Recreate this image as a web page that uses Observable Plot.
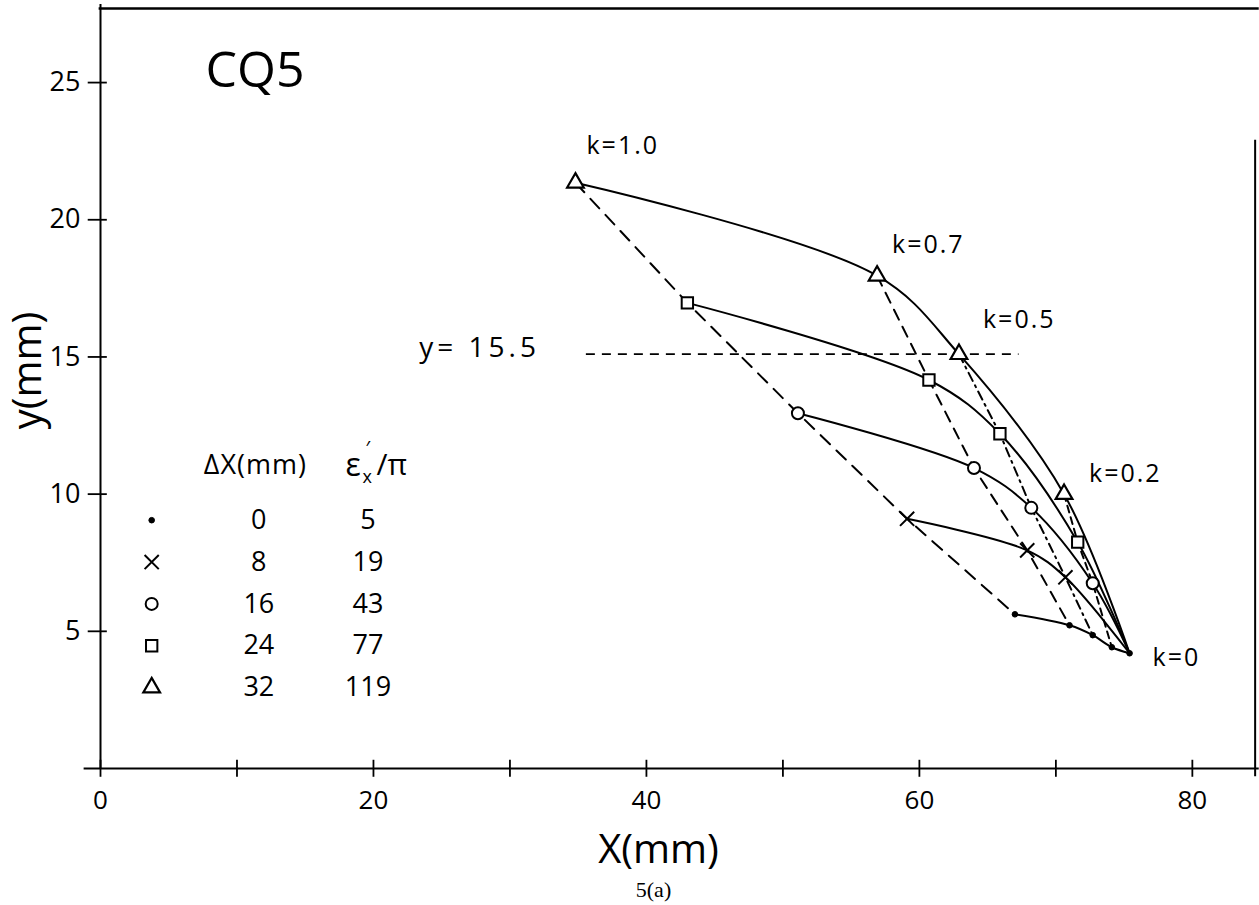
<!DOCTYPE html>
<html><head><meta charset="utf-8">
<script src="https://cdn.jsdelivr.net/npm/d3@7"></script>
<script src="https://cdn.jsdelivr.net/npm/@observablehq/plot@0.6"></script>
<style>body{margin:0;background:#fff;} #chart svg{display:block;}</style>
</head><body><div id="chart"></div>
<script>
// ---- data ----
const kValues = [1.0, 0.7, 0.5, 0.2, 0];
const kLabels = ["k=1.0", "k=0.7", "k=0.5", "k=0.2", "k=0"];
const deltaX = [0, 8, 16, 24, 32];          // ΔX (mm)
const emittance = [5, 19, 43, 77, 119];     // ε'x/π
const seriesNames = ["dot", "times", "circle", "square", "triangle"];
// points of each ΔX series, in kValues order (null = not visible)
const dotX = [67.0, 71.0, 72.7, 74.1, 75.4];
const dotY = [5.62, 5.22, 4.86, 4.42, 4.2];
const crossX = [59.1, 67.9, 70.7, null, 75.4];
const crossY = [9.1, 7.95, 6.97, null, 4.2];
const circleX = [51.1, 64.0, 68.2, 72.7, 75.4];
const circleY = [12.95, 10.95, 9.5, 6.75, 4.2];
const squareX = [43.0, 60.7, 65.9, 71.6, 75.4];
const squareY = [16.97, 14.16, 12.2, 8.25, 4.2];
const triX = [34.8, 56.9, 62.9, 70.6, 75.4];
const triY = [21.35, 17.96, 15.1, 10.0, 4.2];
const refLineY = 15.1;                      // drawn line labelled y = 15.5
const refLineX = [35.6, 67.3];
const refLabel = "y= 15.5";
const xTickMarks = [0, 10, 20, 30, 40, 50, 60, 70, 80];
const xTickLabels = [0, 20, 40, 60, 80];
const yTickMarks = [5, 10, 15, 20, 25];
const xDomain = [0, 84.7];
const yDomain = [0, 27.7];

// ---- build table ----
const seriesX = [dotX, crossX, circleX, squareX, triX];
const seriesY = [dotY, crossY, circleY, squareY, triY];
const rows = [];
seriesNames.forEach((s, i) => kValues.forEach((k, j) => {
  if (seriesX[i][j] != null) rows.push({s, i, k, j, x: seriesX[i][j], y: seriesY[i][j]});
}));
const markerRows = rows.filter(r => r.k !== 0 || r.s === "dot");

const FONT = "Open Sans, Lato, sans-serif";
const dashStyles = ["13,9", "11,8", "9,5,2,5", "7,5"];

const marks = [];
// frame & axes
marks.push(Plot.ruleY([0], {x1: -1.2, x2: 84.9, stroke: "black", strokeWidth: 2.2}));
marks.push(Plot.ruleX([0], {y1: 0, y2: 27.85, stroke: "black", strokeWidth: 2}));
marks.push(Plot.ruleY([27.7], {x1: -0.1, x2: 84.9, stroke: "black", strokeWidth: 2.4}));
marks.push(Plot.ruleX([84.6], {y1: -0.3, y2: 22.9, stroke: "black", strokeWidth: 2}));
marks.push(Plot.ruleX(xTickMarks, {y1: -0.32, y2: 0.3, stroke: "black", strokeWidth: 1.8}));
marks.push(Plot.ruleY(yTickMarks, {x1: -0.9, x2: 0.5, stroke: "black", strokeWidth: 1.8}));
marks.push(Plot.axisX(xTickLabels, {tickSize: 0, tickPadding: 22, fontSize: 26, fontFamily: FONT, label: null}));
marks.push(Plot.axisY(yTickMarks, {tickSize: 0, tickPadding: 20, fontSize: 27, fontFamily: FONT, label: null}));

// reference line
marks.push(Plot.ruleY([refLineY], {x1: refLineX[0], x2: refLineX[1], stroke: "black", strokeWidth: 1.8, strokeDasharray: "9,7"}));
marks.push(Plot.text([refLabel], {x: 32.2, y: refLineY, text: d => d, textAnchor: "end", lineAnchor: "middle", dy: -6, fontSize: 28, fontFamily: FONT}));

// solid curves for each ΔX series
marks.push(Plot.line(rows, {x: "x", y: "y", z: "s", curve: "catmull-rom", stroke: "black", strokeWidth: 2}));
// dashed lines for each k
kValues.slice(0, 4).forEach((k, j) => {
  const pts = rows.filter(r => r.k === k).sort((a, b) => b.i - a.i);
  marks.push(Plot.line(pts, {x: "x", y: "y", stroke: "black", strokeWidth: 2, strokeDasharray: dashStyles[j]}));
});

// markers
const symStyle = {
  dot: {symbol: "circle", r: 2.8, fill: "black", stroke: "black", strokeWidth: 1},
  times: {symbol: "times", r: 6.5, fill: "none", stroke: "black", strokeWidth: 2},
  circle: {symbol: "circle", r: 6, fill: "white", stroke: "black", strokeWidth: 2},
  square: {symbol: "square", r: 6.4, fill: "white", stroke: "black", strokeWidth: 2},
  triangle: {symbol: "triangle", r: 6.2, fill: "white", stroke: "black", strokeWidth: 2.2}
};
seriesNames.forEach(s => {
  marks.push(Plot.dot(markerRows.filter(r => r.s === s), {x: "x", y: "y", ...symStyle[s]}));
});

// k labels, anchored on the triangle (or convergence) points
const kOffsets = [[11, -37], [15, -31], [24, -34], [25, -20], [23, 5]];
kLabels.forEach((lab, j) => {
  const p = rows.find(r => r.s === "triangle" && r.j === j);
  marks.push(Plot.text([p], {x: "x", y: "y", text: () => lab, dx: kOffsets[j][0], dy: kOffsets[j][1],
    textAnchor: "start", lineAnchor: "middle", fontSize: 25, fontFamily: FONT}));
});

// legend table
const legRows = seriesNames.map((s, i) => ({s, i, y: 9.05 - i * 1.525}));
const legSymX = 3.75, legDxX = 11.6, legEmX = 19.6, legHeadY = 11.05;
seriesNames.forEach((s, i) => {
  marks.push(Plot.dot([legRows[i]], {x: () => legSymX, y: "y", ...symStyle[s]}));
});
marks.push(Plot.text(legRows, {x: () => legDxX, y: "y", text: d => String(deltaX[d.i]), fontSize: 27, fontFamily: FONT, lineAnchor: "middle"}));
marks.push(Plot.text(legRows, {x: () => legEmX, y: "y", text: d => String(emittance[d.i]), fontSize: 27, fontFamily: FONT, lineAnchor: "middle"}));
marks.push(Plot.text(["ΔX(mm)"], {x: () => 11.35, y: () => legHeadY, text: d => d, fontSize: 27, fontFamily: FONT, lineAnchor: "middle"}));
marks.push(Plot.text(["ε"], {x: () => 17.95, y: () => legHeadY, text: d => d, textAnchor: "start", fontSize: 32, fontFamily: FONT, lineAnchor: "middle"}));
marks.push(Plot.text(["x"], {x: () => 17.95, y: () => legHeadY, text: d => d, textAnchor: "start", dx: 17, dy: 12, fontSize: 18, fontFamily: FONT, lineAnchor: "middle"}));
marks.push(Plot.text(["′"], {x: () => 17.95, y: () => legHeadY, text: d => d, textAnchor: "start", dx: 20, dy: -17, fontSize: 20, fontFamily: FONT, lineAnchor: "middle"}));
marks.push(Plot.text(["/π"], {x: () => 17.95, y: () => legHeadY, text: d => d, textAnchor: "start", dx: 31, dy: 0, fontSize: 30, fontFamily: FONT, lineAnchor: "middle"}));

// titles and axis names
marks.push(Plot.text(["CQ5"], {frameAnchor: "top-left", text: d => d, dx: 105, dy: 62, textAnchor: "start", lineAnchor: "middle", fontSize: 50, fontFamily: FONT}));
marks.push(Plot.text(["X(mm)"], {frameAnchor: "bottom", text: d => d, dx: -20, dy: 82, textAnchor: "middle", lineAnchor: "middle", fontSize: 40, fontFamily: FONT}));
marks.push(Plot.text(["5(a)"], {frameAnchor: "bottom", text: d => d, dx: -25, dy: 121, textAnchor: "middle", lineAnchor: "middle", fontSize: 22, fontFamily: "Liberation Serif, serif"}));
marks.push(Plot.text(["y(mm)"], {frameAnchor: "left", text: d => d, dx: -72, dy: -18, rotate: -90, textAnchor: "middle", lineAnchor: "middle", fontSize: 40, fontFamily: FONT}));

const chart = Plot.plot({
  width: 1259,
  height: 905,
  marginLeft: 100,
  marginRight: 3,
  marginTop: 8,
  marginBottom: 137,
  x: {domain: xDomain},
  y: {domain: yDomain},
  style: {background: "white", color: "black", overflow: "visible"},
  marks
});
// hand-lettering is wider than the font: open up the spacing of a few labels
const spacing = new Map([[refLabel, "4px"], ...kLabels.map(l => [l, "2px"]), ["ΔX(mm)", "1px"]]);
d3.select(chart).selectAll("text").each(function () {
  const sp = spacing.get(this.textContent);
  if (sp) this.setAttribute("letter-spacing", sp);
});
document.getElementById("chart").appendChild(chart);
</script>
</body></html>
